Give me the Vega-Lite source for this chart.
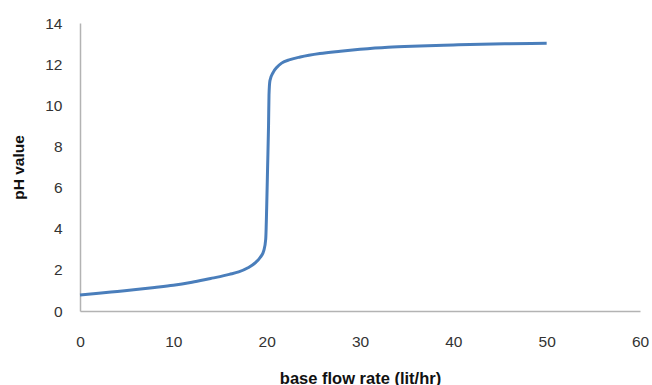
{
  "$schema": "https://vega.github.io/schema/vega-lite/v6.json",
  "width": 560,
  "height": 288,
  "autosize": {"type": "none"},
  "padding": {"left": 80, "top": 23, "right": 12, "bottom": 74},
  "background": "white",
  "config": {"view": {"stroke": null}},
  "data": {"values": [
    {"flow": 0, "ph": 0.78},
    {"flow": 2, "ph": 0.86},
    {"flow": 4, "ph": 0.95},
    {"flow": 6, "ph": 1.04},
    {"flow": 8, "ph": 1.14},
    {"flow": 10, "ph": 1.25},
    {"flow": 12, "ph": 1.4},
    {"flow": 14, "ph": 1.58},
    {"flow": 15, "ph": 1.67},
    {"flow": 16, "ph": 1.78},
    {"flow": 17, "ph": 1.9},
    {"flow": 18, "ph": 2.1},
    {"flow": 18.8, "ph": 2.35},
    {"flow": 19.3, "ph": 2.6},
    {"flow": 19.7, "ph": 2.95},
    {"flow": 19.9, "ph": 3.5},
    {"flow": 20.0, "ph": 5},
    {"flow": 20.1, "ph": 7},
    {"flow": 20.2, "ph": 9},
    {"flow": 20.25, "ph": 10.5},
    {"flow": 20.35, "ph": 11.2},
    {"flow": 20.7, "ph": 11.6},
    {"flow": 21.1, "ph": 11.85},
    {"flow": 21.6, "ph": 12.05},
    {"flow": 22.5, "ph": 12.22},
    {"flow": 23.6, "ph": 12.35},
    {"flow": 25.7, "ph": 12.52},
    {"flow": 27.9, "ph": 12.63},
    {"flow": 30, "ph": 12.72},
    {"flow": 33, "ph": 12.82},
    {"flow": 36.4, "ph": 12.88},
    {"flow": 40, "ph": 12.93},
    {"flow": 43, "ph": 12.97},
    {"flow": 46, "ph": 12.99},
    {"flow": 50, "ph": 13.01}
  ]},
  "mark": {"type": "line", "color": "#4a7ebb", "strokeWidth": 3, "interpolate": "monotone"},
  "encoding": {
    "x": {
      "field": "flow", "type": "quantitative",
      "scale": {"domain": [0, 60], "nice": false},
      "axis": {
        "values": [0, 10, 20, 30, 40, 50, 60],
        "grid": false, "ticks": false,
        "domainColor": "#b3b3b3", "domainWidth": 1.5,
        "labelFont": "Liberation Sans", "labelFontSize": 15.5, "labelColor": "#333333",
        "labelPadding": 23, "labelFlush": false,
        "title": "base flow rate (lit/hr)",
        "titleFont": "Liberation Sans", "titleFontSize": 16.5, "titleFontWeight": "bold", "titleColor": "#111111",
        "titleX": 280, "titleY": 72, "titleBaseline": "alphabetic", "titleAnchor": "middle"
      }
    },
    "y": {
      "field": "ph", "type": "quantitative",
      "scale": {"domain": [0, 14], "nice": false},
      "axis": {
        "values": [0, 2, 4, 6, 8, 10, 12, 14],
        "grid": false, "ticks": false,
        "domainColor": "#b3b3b3", "domainWidth": 1.5,
        "labelFont": "Liberation Sans", "labelFontSize": 15.5, "labelColor": "#333333",
        "labelPadding": 18,
        "title": "pH value",
        "titleFont": "Liberation Sans", "titleFontSize": 15.5, "titleFontWeight": "bold", "titleColor": "#111111",
        "titleAngle": -90, "titleX": -62, "titleY": 144, "titleBaseline": "middle", "titleAnchor": "middle"
      }
    }
  }
}
